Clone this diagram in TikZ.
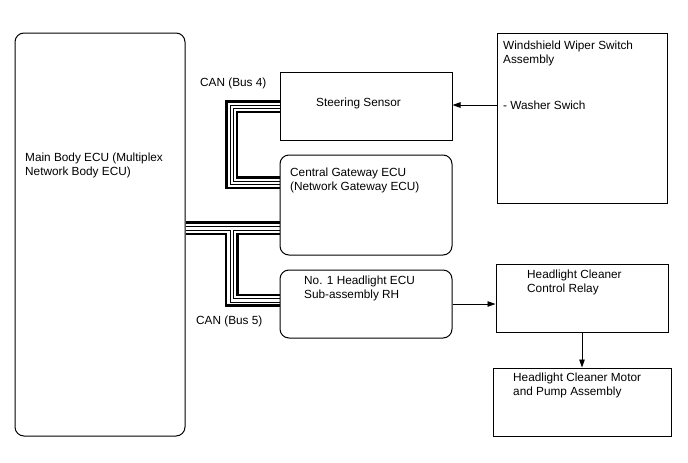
\documentclass[tikz,border=0pt]{standalone}
\usepackage{fontspec}
\setmainfont{Liberation Sans}
\usetikzlibrary{arrows.meta}
\begin{document}
\begin{tikzpicture}[x=1pt,y=-1pt,
  box/.style={draw, line width=1pt, inner sep=0pt},
  rbox/.style={box, rounded corners=9pt},
  txt/.style={anchor=north west, inner sep=0pt, align=left, font=\fontsize{11.8}{13.8}\selectfont},
  thk/.style={line width=2.2pt},
  thn/.style={line width=1pt},
  arr/.style={line width=0.9pt, -{Triangle[length=8pt,width=5.5pt]}}]
\fill[white] (0,0) rectangle (688,463);
\useasboundingbox (0,0) rectangle (688,463);

% boxes
\node[rbox, minimum width=170pt, minimum height=403pt] (main) at (100,234.5) {};
\node[box,  minimum width=172pt, minimum height=68pt]  (steer) at (366,106) {};
\node[rbox, minimum width=172pt, minimum height=100pt] (gw) at (366,205) {};
\node[rbox, minimum width=172pt, minimum height=68pt]  (hl) at (366,304) {};
\node[box,  minimum width=170pt, minimum height=170pt] (ws) at (582,118) {};
\node[box,  minimum width=172pt, minimum height=68pt]  (relay) at (582,298) {};
\node[box,  minimum width=178pt, minimum height=68pt]  (motor) at (582,402) {};

% texts
\node[txt] (tmain) at (25,152.5) {Main Body ECU (Multiplex\\Network Body ECU)};
\node[txt] (tsteer) at (316,97.5) {Steering Sensor};
\node[txt] (tgw) at (290,167.5) {Central Gateway ECU\\(Network Gateway ECU)};
\node[txt] (thl) at (304,275.5) {No. 1 Headlight ECU\\Sub-assembly RH};
\node[txt] (tws) at (503,40.5) {Windshield Wiper Switch\\Assembly};
\node[txt] (wash) at (503,100.5) {- Washer Swich};
\node[txt] (trelay) at (527,269.5) {Headlight Cleaner\\Control Relay};
\node[txt] (tmotor) at (513,372.5) {Headlight Cleaner Motor\\and Pump Assembly};
\node[txt] (can4) at (200,77.5) {CAN (Bus 4)};
\node[txt] (can5) at (196,315.5) {CAN (Bus 5)};

% CAN bus 4
\draw[thk] ([yshift=4.5pt]steer.west) -- ++(-53,0) |- ([yshift=17pt]gw.west);
\draw[thn] ([yshift=1pt]steer.west) -- ++(-49.5,0) |- ([yshift=20.5pt]gw.west);
\draw[thn] ([yshift=-2.5pt]steer.west) -- ++(-46,0) |- ([yshift=24pt]gw.west);
\draw[thk] ([yshift=-6pt]steer.west) -- ++(-42.5,0) |- ([yshift=27.5pt]gw.west);

% main bundle and CAN bus 5
\draw[thk] ([yshift=12pt]main.east) -- ([yshift=-17.5pt]gw.west);
\draw[thn] ([yshift=8pt]main.east) -- ([yshift=-21.5pt]gw.west);
\draw[thn] ([yshift=4pt]main.east) -| (230,302) -- ([yshift=2pt]hl.west);
\draw[thn] ([yshift=-25.5pt]gw.west) -| (233.5,298.5) -- ([yshift=5.5pt]hl.west);
\draw[thk] ([yshift=0.5pt]main.east) -| (226,305.5) -- ([yshift=-1.5pt]hl.west);
\draw[thk] ([yshift=-29pt]gw.west) -| (237.5,295) -- ([yshift=9pt]hl.west);

% arrows
\draw[arr] (ws.west |- wash.west) -- (steer.east |- wash.west);
\draw[arr] (hl.east) -- (relay.west |- hl.east);
\draw[arr] (relay.south) -- (motor.north);
\end{tikzpicture}
\end{document}
